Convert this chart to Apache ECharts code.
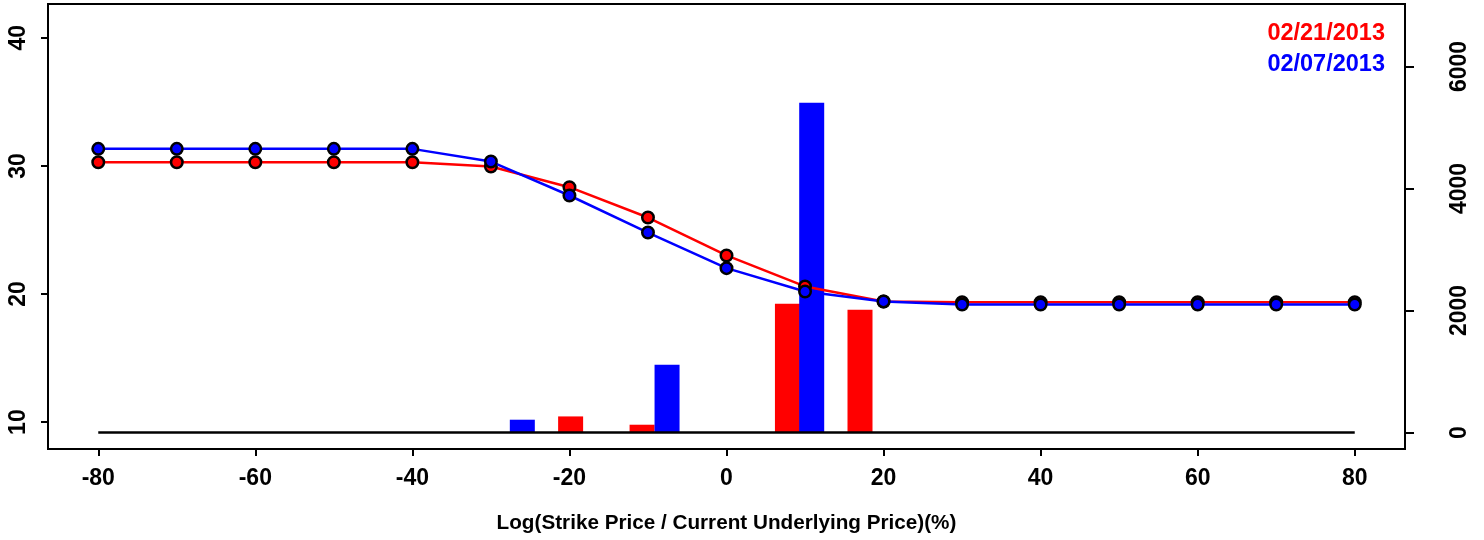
<!DOCTYPE html>
<html>
<head>
<meta charset="utf-8">
<script src="https://cdn.jsdelivr.net/npm/echarts@6/dist/echarts.min.js"></script>
<style>
html,body{margin:0;padding:0;background:#fff;}
#chart{width:1484px;height:540px;}
</style>
</head>
<body>
<div id="chart"></div>
<script>
// Log(strike / underlying) in %
const strikes = [-80, -70, -60, -50, -40, -30, -20, -10, 0, 10, 20, 30, 40, 50, 60, 70, 80];
// Implied volatility (left axis)
const iv_0221 = [30.29, 30.29, 30.29, 30.29, 30.29, 29.95, 28.34, 25.97, 23.01, 20.59, 19.42, 19.36, 19.36, 19.36, 19.36, 19.36, 19.36];
const iv_0207 = [31.33, 31.33, 31.33, 31.33, 31.33, 30.34, 27.69, 24.80, 22.02, 20.20, 19.42, 19.18, 19.18, 19.18, 19.18, 19.18, 19.18];
// Volume bars (right axis)
const volX_0221 = [-19.85, -10.75, 7.76, 17.0];
const vol_0221 = [264, 128, 2110, 2012];
const volX_0207 = [-26.0, -7.57, 10.85];
const vol_0207 = [210, 1111, 5404];
// Tick labels
const xTicks = [-80, -60, -40, -20, 0, 20, 40, 60, 80];
const leftTicks = [10, 20, 30, 40];
const rightTicks = [0, 2000, 4000, 6000];
const baseline = [[-80, 0], [80, 0]];
const names = ['02/21/2013', '02/07/2013'];
const colors = ['#ff0000', '#0000ff'];

const FONT = 'Liberation Sans, Arial, sans-serif';
const chart = echarts.init(document.getElementById('chart'), null, {renderer: 'canvas'});

const pair = (xs, ys) => xs.map((x, i) => [x, ys[i]]);
const plain = v => String(v);

const option = {
  animation: false,
  backgroundColor: '#fff',
  textStyle: {fontFamily: FONT},
  grid: {left: 48, right: 79, top: 4, bottom: 91, show: true, borderColor: '#000', borderWidth: 2, backgroundColor: 'transparent'},
  legend: {
    orient: 'vertical', right: 94, top: 17, itemWidth: 0, itemHeight: 0, itemGap: 7,
    icon: 'none', selectedMode: false, align: 'left',
    data: [
      {name: names[0], textStyle: {color: colors[0]}},
      {name: names[1], textStyle: {color: colors[1]}}
    ],
    textStyle: {fontFamily: FONT, fontSize: 23.5, fontWeight: 'bold', padding: 0}
  },
  xAxis: {
    type: 'value', min: -86.4, max: 86.4,
    name: 'Log(Strike Price / Current Underlying Price)(%)',
    nameLocation: 'middle', nameGap: 64,
    nameTextStyle: {fontFamily: FONT, fontSize: 20.7, fontWeight: 'bold', color: '#000'},
    axisLine: {show: false, onZero: false},
    splitLine: {show: false},
    axisTick: {show: true, length: 7, lineStyle: {color: '#000', width: 2}, customValues: xTicks},
    axisLabel: {fontFamily: FONT, fontSize: 23, fontWeight: 'bold', color: '#000', margin: 18, customValues: xTicks, formatter: plain}
  },
  yAxis: [
    {
      type: 'value', min: 7.90, max: 42.64, position: 'left',
      axisLine: {show: false, onZero: false}, splitLine: {show: false},
      axisTick: {show: true, length: 7, lineStyle: {color: '#000', width: 2}, customValues: leftTicks},
      axisLabel: {rotate: 90, fontFamily: FONT, fontSize: 23, fontWeight: 'bold', color: '#000', margin: 18, customValues: leftTicks, formatter: plain}
    },
    {
      type: 'value', min: -270, max: 7024, position: 'right',
      axisLine: {show: false, onZero: false}, splitLine: {show: false},
      axisTick: {show: true, length: 9, lineStyle: {color: '#000', width: 2}, customValues: rightTicks},
      axisLabel: {rotate: 90, fontFamily: FONT, fontSize: 23, fontWeight: 'bold', color: '#000', margin: 43, customValues: rightTicks, formatter: plain}
    }
  ],
  series: [
    {
      name: names[0] + ' volume', type: 'bar', xAxisIndex: 0, yAxisIndex: 1,
      data: pair(volX_0221, vol_0221), barWidth: 25, barGap: '-100%',
      itemStyle: {color: colors[0]}, z: 1
    },
    {
      name: names[1] + ' volume', type: 'bar', xAxisIndex: 0, yAxisIndex: 1,
      data: pair(volX_0207, vol_0207), barWidth: 25, barGap: '-100%',
      itemStyle: {color: colors[1]}, z: 1
    },
    {
      name: 'base', type: 'line', yAxisIndex: 1, data: baseline, symbol: 'none',
      lineStyle: {color: '#000', width: 2.5}, z: 2
    },
    {
      name: names[0], type: 'line', yAxisIndex: 0, data: pair(strikes, iv_0221),
      symbol: 'circle', symbolSize: 11.5, color: colors[0],
      lineStyle: {color: colors[0], width: 2.5},
      itemStyle: {color: colors[0], borderColor: '#000', borderWidth: 2.5},
      z: 3
    },
    {
      name: names[1], type: 'line', yAxisIndex: 0, data: pair(strikes, iv_0207),
      symbol: 'circle', symbolSize: 11.5, color: colors[1],
      lineStyle: {color: colors[1], width: 2.5},
      itemStyle: {color: colors[1], borderColor: '#000', borderWidth: 2.5},
      z: 4
    }
  ]
};
chart.setOption(option);
</script>
</body>
</html>
